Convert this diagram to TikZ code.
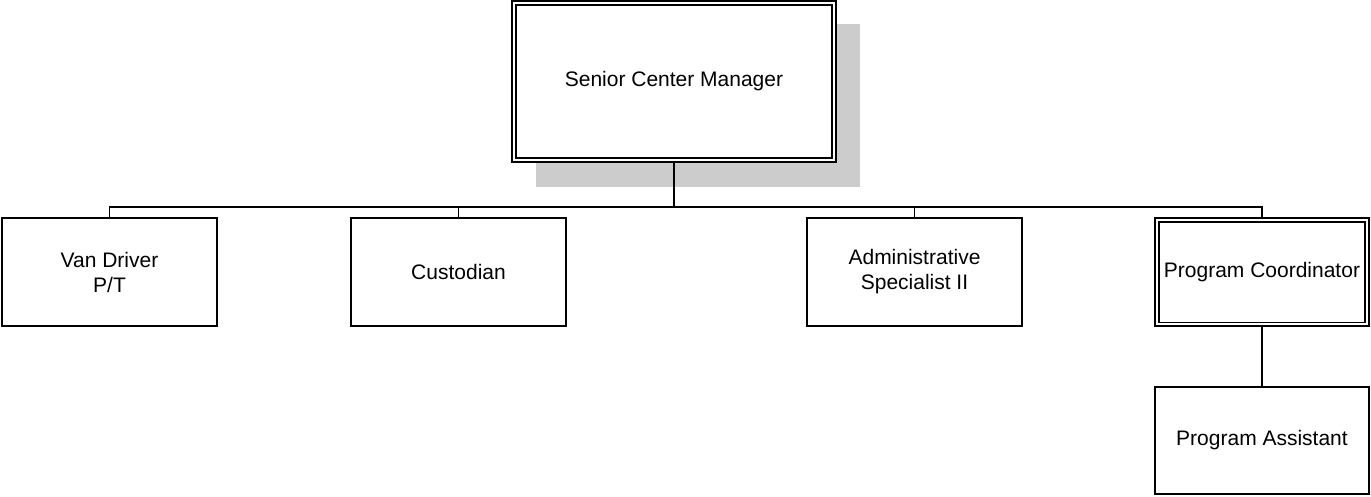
\documentclass[tikz,border=0pt]{standalone}
\usepackage{fontspec}
\setmainfont{Liberation Sans}
\begin{document}
\begin{tikzpicture}[x=1pt,y=-1pt,
  box/.style={draw=black,line width=1.6pt,fill=white,inner sep=0pt,align=center,
    font=\fontsize{21}{25}\selectfont},
  link/.style={draw=black,line width=1.6pt},
  shadowbox/.style={fill=black!20,draw=none}]
\useasboundingbox (0,0) rectangle (1371,496);
% shadow
\fill[shadowbox] (536,24) rectangle (860,187);
% top
\node[box,minimum width=324pt,minimum height=161pt] (mgr) at (674,81.5) {Senior Center Manager};
\draw[line width=1.6pt] ([shift={(5pt,5pt)}]mgr.south west) rectangle ([shift={(-5pt,-5pt)}]mgr.north east);
% row
\node[box,minimum width=215pt,minimum height=108pt] (van) at (109.5,272) {Van Driver\\P/T};
\node[box,minimum width=215pt,minimum height=108pt] (cus) at (458.5,272) {Custodian};
\node[box,minimum width=215pt,minimum height=108pt] (adm) at (914.5,272) {Administrative\\Specialist II};
\node[box,minimum width=214pt,minimum height=108pt] (pc) at (1262,272) {Program Coordinator};
\draw[line width=1.6pt] ([shift={(5pt,4.5pt)}]pc.south west) rectangle ([shift={(-5pt,-4.5pt)}]pc.north east);
\node[box,minimum width=214pt,minimum height=107pt] (pa) at (1262,440.5) {Program Assistant};
% connectors
\coordinate (bus) at (674,207);
\draw[link] (mgr.south) -- (bus);
\draw[link] (van.north) |- (bus) -| (pc.north);
\draw[link] (cus.north) -- (cus.north |- bus);
\draw[link] (adm.north) -- (adm.north |- bus);
\draw[link] (pc.south) -- (pa.north);
\end{tikzpicture}
\end{document}
